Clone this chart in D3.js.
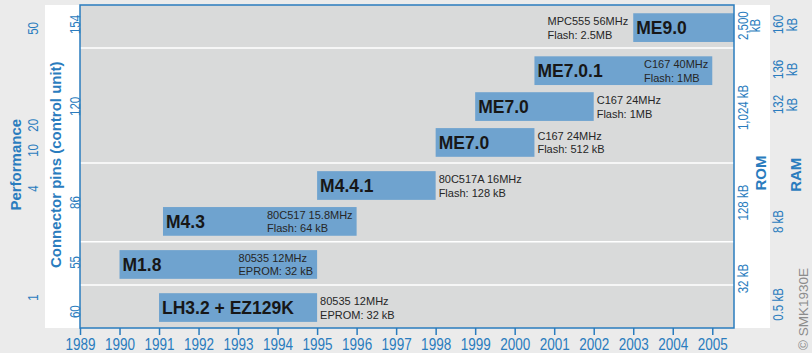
<!DOCTYPE html>
<html>
<head>
<meta charset="utf-8">
<script src="https://cdn.jsdelivr.net/npm/d3@7"></script>
<style>
  body { margin: 0; background: #ebebeb; }
  svg { display: block; }
</style>
</head>
<body>
<svg id="chart"></svg>
<script>
// x axis ticks
const yearTicks = [1989, 1990, 1991, 1992, 1993, 1994, 1995, 1996, 1997, 1998, 1999, 2000, 2001, 2002, 2003, 2004, 2005]

// control units, top to bottom
const models = ["ME9.0", "ME7.0.1", "ME7.0", "ME7.0", "M4.4.1", "M4.3", "M1.8", "LH3.2 + EZ129K"]
const cpus = ["MPC555 56MHz", "C167 40MHz", "C167 24MHz", "C167 24MHz", "80C517A 16MHz", "80C517 15.8MHz", "80535 12MHz", "80535 12MHz"]
const memories = ["Flash: 2.5MB", "Flash: 1MB", "Flash: 1MB", "Flash: 512 kB", "Flash: 128 kB", "Flash: 64 kB", "EPROM: 32 kB", "EPROM: 32 kB"]
const startYears = [2003, 2000.5, 1999, 1998, 1995, 1991.1, 1990, 1991]
const endYears = [2005.55, 2005, 2002, 2000.5, 1998, 1996, 1995, 1995]
const rowLevels = [8.37, 7.17, 6.17, 5.17, 3.97, 2.97, 1.77, 0.57]
const descPlacement = ["left", "inside", "right", "right", "right", "inside", "inside", "right"]

// white separators between connector-pin groups
const bandBreaks = [1.2, 2.4, 4.6, 7.8]

// side axes
const perfLabels = ["50", "20", "10", "4", "1"]
const perfLevels = [8.36, 5.66, 4.96, 3.9, 0.86]
const pinLabels = ["154", "120", "86", "55", "60"]
const pinLevels = [8.47, 6.19, 3.51, 1.84, 0.47]
const romLabels = [["2,500", "kB"], ["1,024 kB"], ["128 kB"], ["32 kB"]]
const romLevels = [8.44, 6.16, 3.51, 1.39]
const ramLabels = [["160", "kB"], ["136", "kB"], ["132", "kB"], ["8 kB"], ["0.5 kB"]]
const ramLevels = [8.47, 7.22, 6.24, 2.98, 0.67]

const width = 812, height = 353
const plot = {left: 80, right: 734, top: 5, bottom: 328}
const blue = "#2a7cbe"
const sans = "'Liberation Sans', Arial, Helvetica, sans-serif"
const squeeze = "scale(0.82,1)"   // fake a condensed face

const svg = d3.select("#chart")
  .attr("width", width)
  .attr("height", height)

svg.append("rect")
  .attr("width", width).attr("height", height)
  .attr("fill", "#ebebeb")

// white panel behind the inner labels
svg.append("rect")
  .attr("x", 45).attr("y", plot.top)
  .attr("width", 770 - 45).attr("height", plot.bottom - plot.top)
  .attr("fill", "#ffffff")

const x = d3.scaleLinear().domain([1989, 2005.55]).range([plot.left, plot.right])
const y = d3.scaleLinear().domain([0, 9]).range([plot.bottom, plot.top])
const barH = y(0) - y(0.8)

svg.append("rect")
  .attr("x", plot.left).attr("y", plot.top)
  .attr("width", plot.right - plot.left).attr("height", plot.bottom - plot.top)
  .attr("fill", "#d9dada")

svg.append("g")
  .selectAll("line")
  .data(bandBreaks)
  .join("line")
  .attr("x1", plot.left).attr("x2", plot.right)
  .attr("y1", d => y(d)).attr("y2", d => y(d))
  .attr("stroke", "#ffffff")
  .attr("stroke-width", 1.5)

// bars
const rows = models.map((m, i) => ({i}))
svg.append("g")
  .selectAll("rect")
  .data(rows)
  .join("rect")
  .attr("x", d => x(startYears[d.i]))
  .attr("y", d => y(rowLevels[d.i] + 0.4))
  .attr("width", d => x(endYears[d.i]) - x(startYears[d.i]))
  .attr("height", barH)
  .attr("fill", "#6fa3cf")

// model names
svg.append("g")
  .selectAll("text")
  .data(rows)
  .join("text")
  .attr("x", d => x(startYears[d.i]) + 3)
  .attr("y", d => y(rowLevels[d.i]) + 6.5)
  .attr("font-family", sans)
  .attr("font-weight", "bold")
  .attr("font-size", 17.5)
  .attr("fill", "#171717")
  .text(d => models[d.i])

// cpu / memory notes
const notes = svg.append("g")
  .attr("font-family", sans)
  .attr("font-size", 11)
  .attr("fill", "#262626")
rows.forEach(d => {
  const l1 = notes.append("text").attr("y", y(rowLevels[d.i]) - 2.5).text(cpus[d.i])
  const l2 = notes.append("text").attr("y", y(rowLevels[d.i]) + 11).text(memories[d.i])
  const w = Math.max(l1.node().getComputedTextLength(), l2.node().getComputedTextLength())
  let nx
  if (descPlacement[d.i] == "left") nx = x(startYears[d.i]) - w - 5
  else if (descPlacement[d.i] == "inside") nx = x(endYears[d.i]) - w - 4
  else nx = x(endYears[d.i]) + 3
  l1.attr("x", nx)
  l2.attr("x", nx)
})

// plot frame
svg.append("rect")
  .attr("x", plot.left).attr("y", plot.top)
  .attr("width", plot.right - plot.left).attr("height", plot.bottom - plot.top)
  .attr("fill", "none")
  .attr("stroke", blue)
  .attr("stroke-width", 1.5)

// year axis
const xAxis = svg.append("g")
  .attr("transform", "translate(0," + plot.bottom + ")")
  .call(d3.axisBottom(x).tickValues(yearTicks).tickFormat(d3.format("d")).tickSize(7).tickPadding(3))
xAxis.select(".domain").remove()
xAxis.attr("color", blue)
  .attr("font-family", sans)
  .attr("font-size", 16.5)
xAxis.selectAll("line").attr("stroke-width", 1.5)
xAxis.selectAll("text").attr("transform", squeeze)

// rotated side scales
function sideAxis(cx, levels, labels, size, lineGap) {
  const g = svg.append("g")
    .attr("transform", "translate(" + cx + ",0)")
    .call(d3.axisLeft(y).tickValues(levels).tickFormat("").tickSize(0))
  g.select(".domain").remove()
  g.attr("color", blue).attr("font-family", sans).attr("font-size", size)
  g.selectAll(".tick text")
    .attr("x", null).attr("dy", null)
    .attr("transform", "rotate(-90) " + squeeze)
    .attr("text-anchor", "middle")
    .each(function(d, i) {
      const t = d3.select(this)
      const lines = Array.isArray(labels[i]) ? labels[i] : [labels[i]]
      lines.forEach((s, j) => {
        t.append("tspan").attr("x", 0).attr("y", j * lineGap).attr("dy", "0.35em").text(s)
      })
    })
  return g
}

sideAxis(33, perfLevels, perfLabels, 14, 0)
sideAxis(75, pinLevels, pinLabels, 14, 0)
sideAxis(743, romLevels, romLabels, 14, 12)
sideAxis(778, ramLevels, ramLabels, 14, 14)

// axis titles
const titles = [
  {text: "Performance", cx: 16, level: 4.55},
  {text: "Connector pins (control unit)", cx: 56, level: 4.55},
  {text: "ROM", cx: 761, level: 4.32},
  {text: "RAM", cx: 796, level: 4.27}
]
svg.append("g")
  .selectAll("text")
  .data(titles)
  .join("text")
  .attr("transform", d => "translate(" + d.cx + "," + y(d.level) + ") rotate(-90)")
  .attr("text-anchor", "middle")
  .attr("dy", "0.35em")
  .attr("font-family", sans)
  .attr("font-weight", "bold")
  .attr("font-size", 15)
  .attr("fill", blue)
  .text(d => d.text)

svg.append("text")
  .attr("transform", "translate(803,350) rotate(-90)")
  .attr("text-anchor", "start")
  .attr("dy", "0.35em")
  .attr("font-family", sans)
  .attr("font-size", 13.5)
  .attr("fill", "#8c8c8c")
  .text("© SMK1930E")
</script>
</body>
</html>
